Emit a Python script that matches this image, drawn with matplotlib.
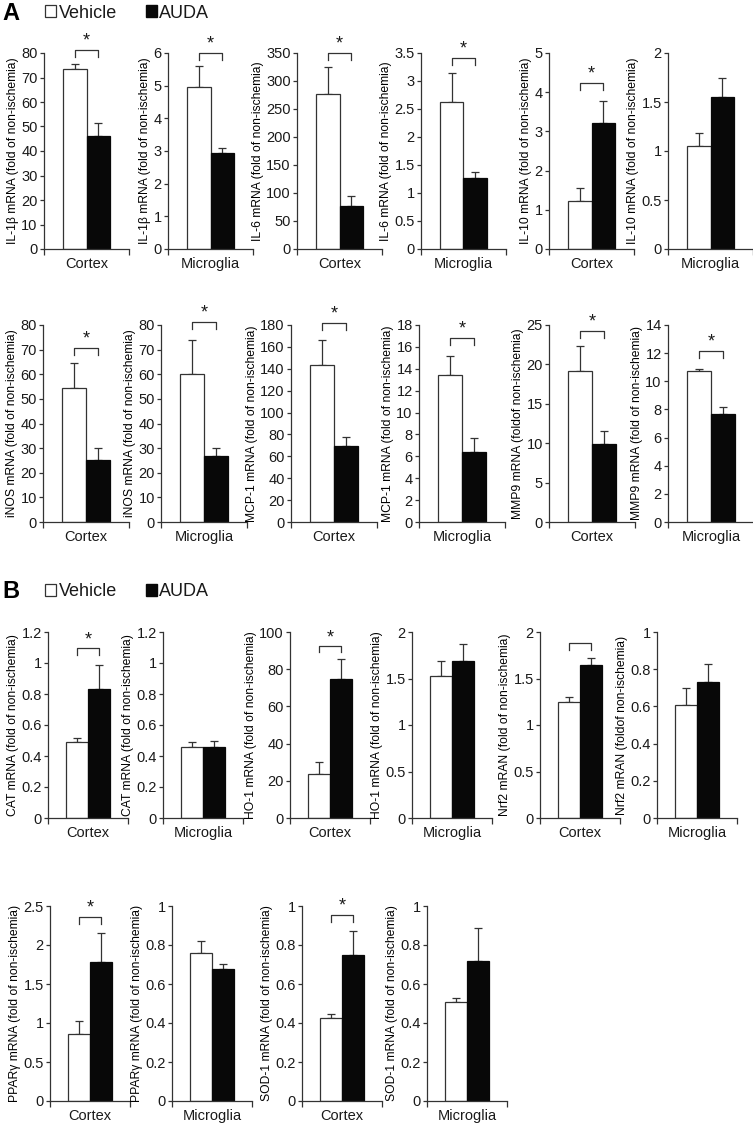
import matplotlib
matplotlib.use("Agg")
import matplotlib.pyplot as plt
import matplotlib.transforms as mtransforms
from matplotlib.patches import Patch
from matplotlib.ticker import MultipleLocator, FuncFormatter

# ---- panel A: inflammatory genes (rows 1 and 2) ----
a_ylabels = ["IL-1\u03b2 mRNA (fold of non-ischemia)", "IL-1\u03b2 mRNA (fold of non-ischemia)",
             "IL-6 mRNA (fold of non-ischemia)", "IL-6 mRNA (fold of non-ischemia)",
             "IL-10 mRNA (fold of non-ischemia)", "IL-10 mRNA (fold of non-ischemia)",
             "iNOS mRNA (fold of non-ischemia)", "iNOS mRNA (fold of non-ischemia)",
             "MCP-1 mRNA (fold of non-ischemia)", "MCP-1 mRNA (fold of non-ischemia)",
             "MMP9 mRNA (foldof non-ischemia)", "MMP9 mRNA (fold of non-ischemia)"]
a_tissue = ["Cortex", "Microglia"] * 6
a_vehicle = [73.5, 4.95, 276, 2.62, 1.23, 1.05, 54.5, 60, 143, 13.4, 19.1, 10.7]
a_vehicle_err = [2.0, 0.65, 49, 0.53, 0.32, 0.13, 10, 14, 23, 1.8, 3.2, 0.2]
a_auda = [46, 2.95, 77, 1.27, 3.22, 1.55, 25, 27, 69, 6.4, 9.9, 7.65]
a_auda_err = [5.5, 0.15, 17, 0.11, 0.56, 0.20, 5, 3, 9, 1.3, 1.7, 0.55]
a_ymax = [80, 6, 350, 3.5, 5, 2, 80, 80, 180, 18, 25, 14]
a_ystep = [10, 1, 50, 0.5, 1, 0.5, 10, 10, 20, 2, 5, 2]
a_sig = ["*", "*", "*", "*", "*", None, "*", "*", "*", "*", "*", "*"]

# ---- panel B: antioxidant genes (rows 3 and 4) ----
b_ylabels = ["CAT mRNA (fold of non-ischemia)", "CAT mRNA (fold of non-ischemia)",
             "HO-1 mRNA (fold of non-ischemia)", "HO-1 mRNA (fold of non-ischemia)",
             "Nrf2 mRAN (fold of non-ischemia)", "Nrf2 mRAN (foldof non-ischemia)",
             "PPAR\u03b3 mRNA (fold of non-ischemia)", "PPAR\u03b3 mRNA (fold of non-ischemia)",
             "SOD-1 mRNA (fold of non-ischemia)", "SOD-1 mRNA (fold of non-ischemia)"]
b_tissue = ["Cortex", "Microglia"] * 5
b_vehicle = [0.49, 0.46, 23.5, 1.53, 1.25, 0.61, 0.86, 0.76, 0.425, 0.51]
b_vehicle_err = [0.025, 0.03, 6.5, 0.16, 0.05, 0.09, 0.17, 0.06, 0.02, 0.02]
b_auda = [0.83, 0.46, 75, 1.69, 1.64, 0.73, 1.78, 0.675, 0.75, 0.72]
b_auda_err = [0.16, 0.04, 10.5, 0.18, 0.08, 0.10, 0.37, 0.03, 0.12, 0.165]
b_ymax = [1.2, 1.2, 100, 2, 2, 1, 2.5, 1, 1, 1]
b_ystep = [0.2, 0.2, 20, 0.5, 0.5, 0.2, 0.5, 0.2, 0.2, 0.2]
b_sig = ["*", None, "*", None, "", None, "*", None, "*", None]

# layout (pixels of the 753x1128 figure): bracket height in axes fraction
a_bracket = [1.015, 1.0, 1.0, 0.975, 0.846, None, 0.883, 1.015, 1.01, 0.934, 0.97, 0.87]
b_bracket = [0.914, None, 0.925, None, 0.94, None, 0.944, None, 0.954, None]

W, H = 753, 1128
row_top = [53, 325, 632, 906]
row_bottom = [249, 522, 818, 1101]
row_lefts = [[44, 168, 297, 421, 549, 668],
             [43, 161, 291, 419, 549, 668],
             [48, 163, 290, 412, 540, 657],
             [50, 172, 302, 427]]
row_width = [85, 86, 80, 80]

plt.rcParams['font.family'] = ['Liberation Sans', 'DejaVu Sans']
plt.rcParams['text.color'] = "#1a1a1a"
plt.rcParams['axes.edgecolor'] = "#333333"
plt.rcParams['xtick.color'] = "#333333"
plt.rcParams['ytick.color'] = "#333333"
plt.rcParams['xtick.labelcolor'] = "#1a1a1a"
plt.rcParams['ytick.labelcolor'] = "#1a1a1a"

fig = plt.figure(figsize=(W / 100, H / 100), dpi=100)


def draw_panel(ax, ylabel, tissue, veh, veh_err, auda, auda_err,
               ymax, ystep, sig, bracket):
    bw = 0.28
    ax.bar([-bw / 2], [veh], width=bw, color="white", edgecolor="#333333",
           linewidth=0.9, zorder=2)
    ax.bar([bw / 2], [auda], width=bw, color="#080808", edgecolor="#080808",
           linewidth=0.9, zorder=2)
    ax.errorbar([-bw / 2], [veh], yerr=[[0], [veh_err]], fmt="none",
                ecolor="#333333", elinewidth=0.9, capsize=3, capthick=0.9,
                zorder=1)
    ax.errorbar([bw / 2], [auda], yerr=[[0], [auda_err]], fmt="none",
                ecolor="#333333", elinewidth=0.9, capsize=3, capthick=0.9,
                zorder=1)
    ax.set_xlim(-0.5, 0.5)
    ax.set_ylim(0, ymax)
    ax.yaxis.set_major_locator(MultipleLocator(ystep))
    ax.yaxis.set_major_formatter(FuncFormatter(lambda v, p: "%g" % round(v, 6)))
    ax.set_xticks([0])
    ax.set_xticklabels([tissue], fontsize=10.5)
    ax.set_xticks([-0.5, 0.5], minor=True)
    ax.tick_params(axis="x", which="major", length=0, pad=6)
    ax.tick_params(axis="x", which="minor", length=4, width=0.9, direction="out")
    ax.tick_params(axis="y", length=3, width=0.9, pad=1.5, labelsize=10.5)
    for s in ["top", "right"]:
        ax.spines[s].set_visible(False)
    for s in ["left", "bottom"]:
        ax.spines[s].set_linewidth(0.9)
    ax.set_ylabel(ylabel, fontsize=8.7, labelpad=1.5)

    if sig is not None and bracket is not None:
        trans = mtransforms.blended_transform_factory(ax.transData, ax.transAxes)
        leg = 0.035
        ax.plot([-bw / 2, -bw / 2, bw / 2, bw / 2],
                [bracket - leg, bracket, bracket, bracket - leg],
                color="#333333", lw=0.9, transform=trans, clip_on=False)
        if sig:
            ax.text(0, bracket + 0.045, sig, transform=trans, ha="center",
                    va="center", fontsize=13)


panels = []
for i in range(12):
    panels.append((a_ylabels[i], a_tissue[i], a_vehicle[i], a_vehicle_err[i],
                   a_auda[i], a_auda_err[i], a_ymax[i], a_ystep[i], a_sig[i],
                   a_bracket[i]))
for i in range(10):
    panels.append((b_ylabels[i], b_tissue[i], b_vehicle[i], b_vehicle_err[i],
                   b_auda[i], b_auda_err[i], b_ymax[i], b_ystep[i], b_sig[i],
                   b_bracket[i]))

k = 0
for r in range(4):
    for left in row_lefts[r]:
        rect = [left / W, 1 - row_bottom[r] / H, row_width[r] / W,
                (row_bottom[r] - row_top[r]) / H]
        ax = fig.add_axes(rect)
        draw_panel(ax, *panels[k])
        k += 1

# legends and panel letters
handles = [Patch(facecolor="white", edgecolor="#333333", linewidth=0.9, label="Vehicle"),
           Patch(facecolor="#080808", edgecolor="#080808", label="AUDA")]
for letter, ypx in [("A", 13), ("B", 592)]:
    fig.text(2 / W, 1 - ypx / H, letter, fontsize=17, fontweight="bold",
             ha="left", va="center", color="black")
    fig.legend(handles=handles, loc="center left",
               bbox_to_anchor=(45 / W, 1 - ypx / H), ncol=2, frameon=False,
               fontsize=13, handlelength=0.6, handleheight=0.6,
               handletextpad=0.15, columnspacing=1.6, borderpad=0,
               borderaxespad=0)

fig.savefig("out.png", dpi=100)
